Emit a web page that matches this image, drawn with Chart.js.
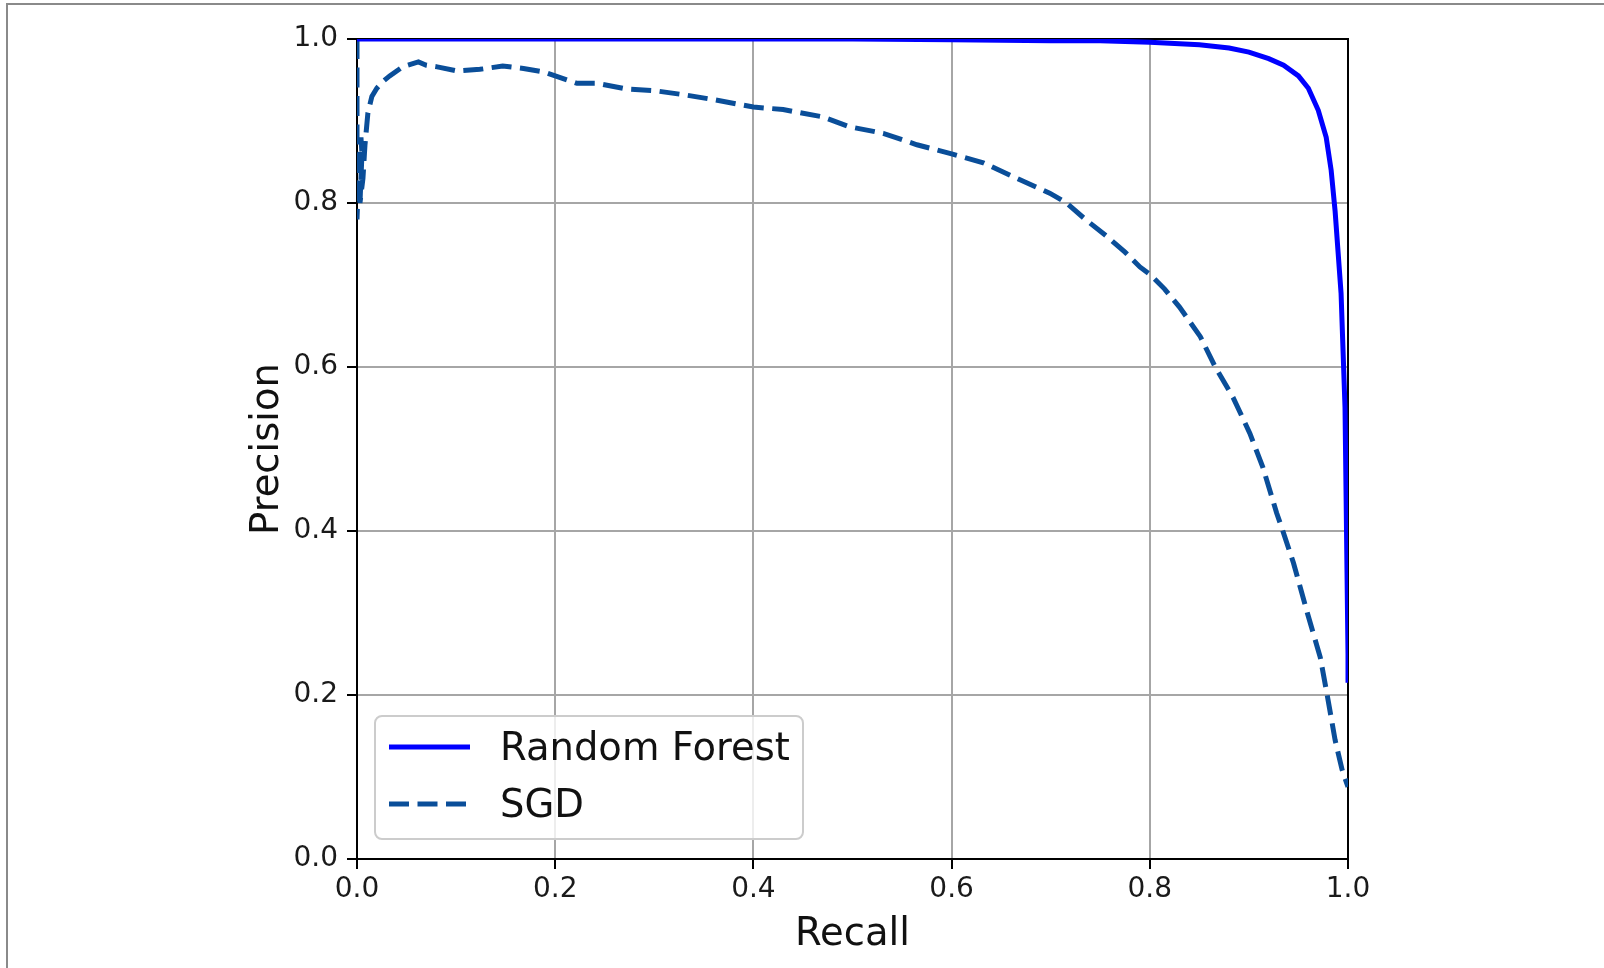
<!DOCTYPE html>
<html>
<head>
<meta charset="utf-8">
<script src="https://cdn.jsdelivr.net/npm/chart.js@4/dist/chart.umd.min.js"></script>
<style>
  html, body { margin: 0; padding: 0; background: #fff; }
  #wrap { width: 1604px; height: 968px; position: relative; }
</style>
</head>
<body>
<div id="wrap"><canvas id="prChart"></canvas></div>
<script>
// precision / recall curves
const rfRecall = [0, 0.3, 0.5, 0.6, 0.7, 0.75, 0.8, 0.85, 0.88, 0.9, 0.92, 0.935, 0.95, 0.96, 0.97, 0.978, 0.983, 0.987, 0.99, 0.993, 0.995, 0.997, 0.998, 0.999, 1.0, 1.0];
const rfPrecision = [1.0, 1.0, 1.0, 0.999, 0.998, 0.998, 0.996, 0.993, 0.989, 0.984, 0.976, 0.968, 0.955, 0.94, 0.913, 0.88, 0.84, 0.79, 0.74, 0.69, 0.62, 0.55, 0.45, 0.35, 0.25, 0.215];

const sgdRecall = [0, 0, 0.002, 0.004, 0.005, 0.003, 0.006, 0.008, 0.011, 0.015,
  0.02, 0.026, 0.033, 0.046, 0.062, 0.07, 0.081, 0.101, 0.124, 0.147,
  0.168, 0.188, 0.2, 0.222, 0.242, 0.272, 0.3, 0.33, 0.36, 0.4,
  0.43, 0.47, 0.497, 0.531, 0.565, 0.6, 0.632, 0.666, 0.699, 0.716,
  0.735, 0.757, 0.775, 0.79, 0.801, 0.815, 0.83, 0.851, 0.866, 0.884,
  0.901, 0.914, 0.928, 0.934, 0.945, 0.959, 0.972, 0.979, 0.987, 0.994, 1.0];
const sgdPrecision = [1.0, 0.78, 0.85, 0.88, 0.86, 0.80, 0.83, 0.87, 0.91, 0.93,
  0.94, 0.948, 0.955, 0.966, 0.972, 0.968, 0.966, 0.961, 0.963, 0.967,
  0.964, 0.96, 0.955, 0.946, 0.946, 0.939, 0.937, 0.932, 0.926, 0.917,
  0.914, 0.905, 0.893, 0.885, 0.871, 0.860, 0.849, 0.830, 0.812, 0.8,
  0.78, 0.759, 0.74, 0.722, 0.712, 0.695, 0.673, 0.637, 0.6, 0.563,
  0.519, 0.478, 0.422, 0.401, 0.361, 0.3, 0.246, 0.2, 0.145, 0.109, 0.088];

const seriesLabels = ['Random Forest', 'SGD'];
const axisTicks = [0, 0.2, 0.4, 0.6, 0.8, 1.0];

const FONT = "'DejaVu Sans', 'Liberation Sans', sans-serif";

function toPoints(xs, ys) {
    return xs.map((x, i) => ({ x: x, y: ys[i] }));
}

// gray frame around the figure + black spines on top / right
const framePlugin = {
    id: 'frame',
    beforeDraw(chart) {
        const c = chart.ctx;
        c.save();
        c.fillStyle = '#fff';
        c.fillRect(0, 0, chart.width, chart.height);
        c.strokeStyle = '#8a8a8a';
        c.lineWidth = 2;
        c.beginPath();
        c.moveTo(7, chart.height);
        c.lineTo(7, 4);
        c.lineTo(chart.width, 4);
        c.stroke();
        c.restore();
    },
    beforeDatasetsDraw(chart) {
        const a = chart.chartArea;
        const c = chart.ctx;
        c.save();
        c.strokeStyle = '#000';
        c.lineWidth = 2;
        c.beginPath();
        c.moveTo(a.left, a.top);
        c.lineTo(a.right, a.top);
        c.lineTo(a.right, a.bottom);
        c.stroke();
        c.restore();
    }
};

// matplotlib style legend in the lower left corner
const boxLegend = {
    id: 'boxLegend',
    afterDraw(chart) {
        const a = chart.chartArea;
        const c = chart.ctx;
        const w = 428, h = 123;
        const x = a.left + 18, y = a.bottom - 20 - h;
        c.save();
        c.beginPath();
        c.roundRect(x, y, w, h, 7);
        c.fillStyle = 'rgba(255,255,255,0.8)';
        c.fill();
        c.strokeStyle = '#cccccc';
        c.lineWidth = 2;
        c.stroke();
        chart.data.datasets.forEach((ds, i) => {
            const ly = y + 31 + i * 57;
            c.beginPath();
            c.strokeStyle = ds.borderColor;
            c.lineWidth = ds.borderWidth;
            c.setLineDash(ds.borderDash || []);
            c.moveTo(x + 14, ly);
            c.lineTo(x + 95, ly);
            c.stroke();
            c.setLineDash([]);
            c.fillStyle = '#111';
            c.font = '38.5px ' + FONT;
            c.textBaseline = 'alphabetic';
            c.textAlign = 'left';
            c.fillText(ds.label, x + 125, ly + 13);
        });
        c.restore();
    }
};

new Chart(document.getElementById('prChart'), {
    type: 'scatter',
    data: {
        datasets: [
            {
                label: seriesLabels[0],
                data: toPoints(rfRecall, rfPrecision),
                showLine: true,
                borderColor: '#0000ff',
                borderWidth: 5,
                pointRadius: 0,
                tension: 0
            },
            {
                label: seriesLabels[1],
                data: toPoints(sgdRecall, sgdPrecision),
                showLine: true,
                borderColor: '#0a4e99',
                borderWidth: 5,
                borderDash: [20, 8.5],
                pointRadius: 0,
                tension: 0
            }
        ]
    },
    options: {
        responsive: true,
        maintainAspectRatio: false,
        animation: false,
        layout: { padding: { left: 0, top: 39, right: 256, bottom: 0 } },
        plugins: {
            legend: { display: false },
            tooltip: { enabled: false }
        },
        scales: {
            x: {
                type: 'linear',
                min: 0,
                max: 1,
                afterFit: s => { s.height = 109; },
                afterBuildTicks: s => { s.ticks = axisTicks.map(v => ({ value: v })); },
                ticks: {
                    color: '#1a1a1a',
                    font: { family: FONT, size: 28 },
                    padding: 4,
                    callback: v => v.toFixed(1)
                },
                grid: {
                    color: '#a6a6a6',
                    lineWidth: 2,
                    tickLength: 10,
                    tickColor: '#000',
                    tickWidth: 2
                },
                border: { display: true, color: '#000', width: 2 },
                title: {
                    display: true,
                    text: 'Recall',
                    color: '#111',
                    font: { family: FONT, size: 38.5 },
                    padding: { top: 0, bottom: 10 }
                }
            },
            y: {
                type: 'linear',
                min: 0,
                max: 1,
                afterFit: s => { s.width = 357; },
                afterBuildTicks: s => { s.ticks = axisTicks.map(v => ({ value: v })); },
                ticks: {
                    color: '#1a1a1a',
                    font: { family: FONT, size: 28 },
                    padding: 9,
                    callback: v => v.toFixed(1)
                },
                grid: {
                    color: '#a6a6a6',
                    lineWidth: 2,
                    tickLength: 10,
                    tickColor: '#000',
                    tickWidth: 2
                },
                border: { display: true, color: '#000', width: 2 },
                title: {
                    display: true,
                    text: 'Precision',
                    color: '#111',
                    font: { family: FONT, size: 38.5 },
                    padding: { top: 245, bottom: 0 }
                }
            }
        }
    },
    plugins: [framePlugin, boxLegend]
});
</script>
</body>
</html>
